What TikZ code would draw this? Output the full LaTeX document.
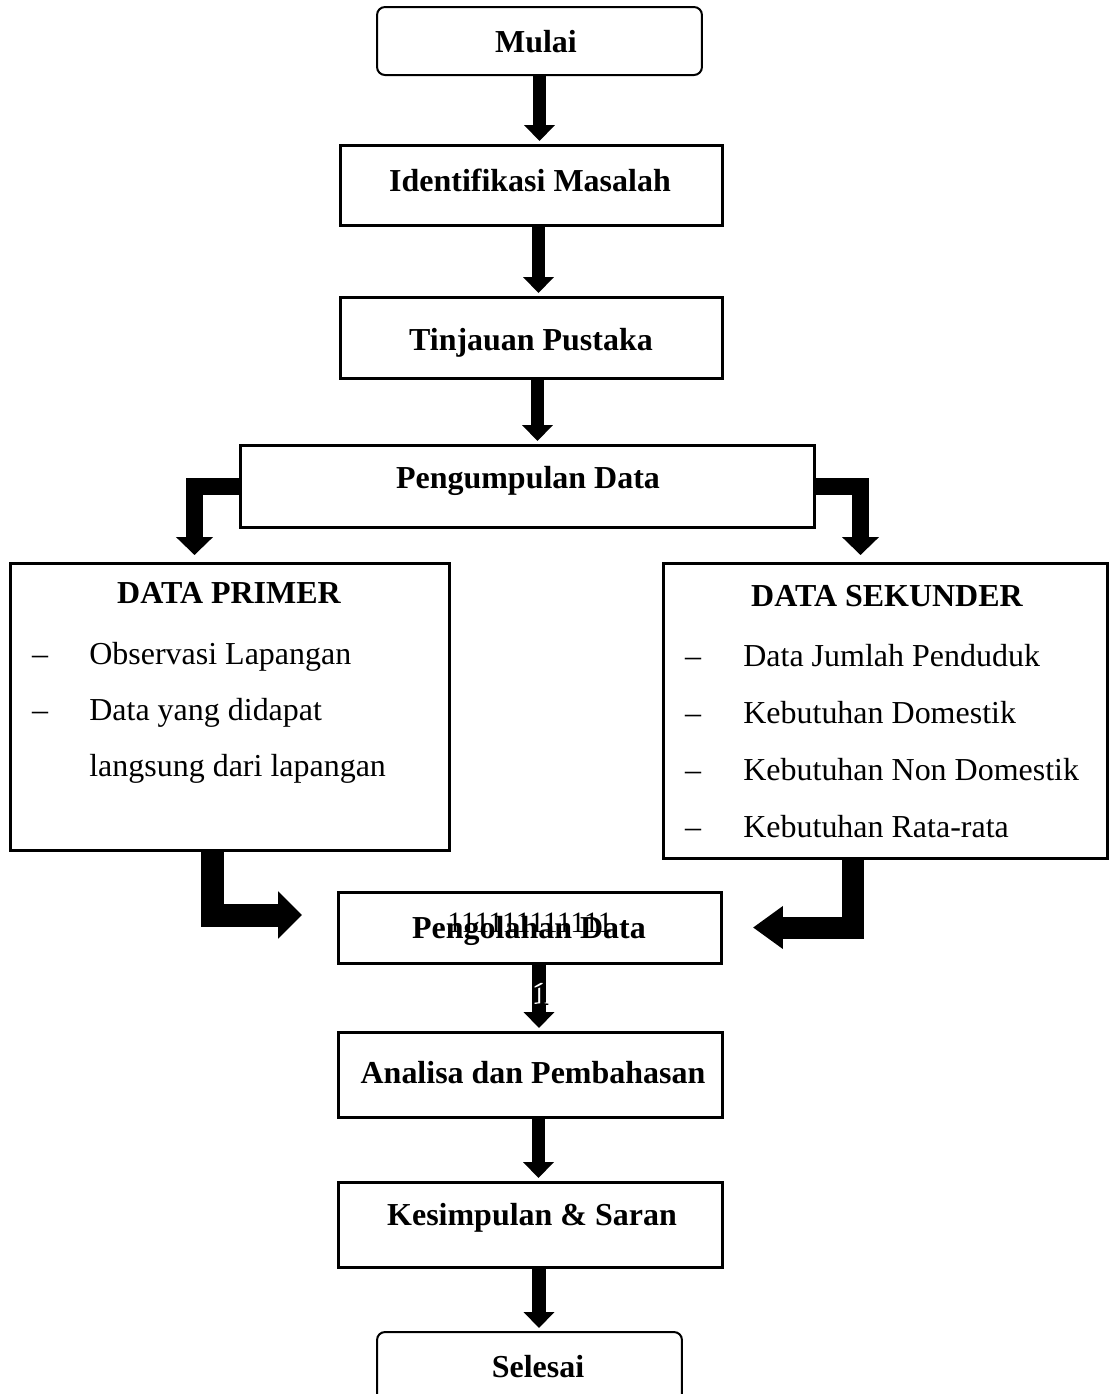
\documentclass[tikz,border=0pt]{standalone}
\usepackage{fontspec}
\setmainfont{Liberation Serif}
\usetikzlibrary{arrows.meta,calc}
\begin{document}
\begin{tikzpicture}[x=0.02cm,y=-0.02cm,
  box/.style={draw,line width=0.06cm,inner sep=0pt,outer sep=0pt},
  rbox/.style={draw,line width=0.04cm,rounded corners=0.16cm,inner sep=0pt,outer sep=0pt},
  lbl/.style={font=\fontsize{18.2pt}{22pt}\selectfont\bfseries,anchor=base,inner sep=0pt},
  txt/.style={font=\fontsize{18.2pt}{22pt}\selectfont,anchor=base west,inner sep=0pt},
  dsh/.style={font=\fontsize{18.2pt}{22pt}\selectfont,anchor=base,inner sep=0pt},
  varrow/.style={line width=0.27cm,-{Triangle[width=0.6cm,length=0.32cm]},shorten >=0.08cm},
  larrowA/.style={line width=0.34cm,line join=miter,-{Triangle[width=0.72cm,length=0.36cm]},shorten >=0.16cm},
  larrowB/.style={line width=0.46cm,line join=miter,-{Triangle[width=0.92cm,length=0.48cm]}},
  larrowC/.style={line width=0.44cm,line join=miter,-{Triangle[width=0.82cm,length=0.6cm]}}
]
\useasboundingbox (0,0) rectangle (1109,1394);

% boxes
\node[rbox,minimum width=6.5cm,minimum height=1.36cm] (mulai) at (539.5,41) {};
\node[box,minimum width=7.66cm,minimum height=1.6cm] (ident) at (531.5,185) {};
\node[box,minimum width=7.66cm,minimum height=1.62cm] (tinj) at (531.5,337.5) {};
\node[box,minimum width=11.5cm,minimum height=1.64cm] (pd) at (527.5,486) {};
\node[box,minimum width=8.8cm,minimum height=5.76cm] (dp) at (230,707) {};
\node[box,minimum width=8.9cm,minimum height=5.92cm] (ds) at (885.5,711) {};
\node[box,minimum width=7.68cm,minimum height=1.42cm] (pg) at (530,927.5) {};
\node[box,minimum width=7.7cm,minimum height=1.7cm] (an) at (530.5,1074.5) {};
\node[box,minimum width=7.7cm,minimum height=1.7cm] (ks) at (530.5,1224.5) {};
\node[rbox,minimum width=6.1cm,minimum height=1.4cm] (sl) at (529.5,1367) {};

% labels
\node[lbl] (tmulai) at (536,52) {Mulai};
\node[lbl] (tident) at (530,191) {Identifikasi Masalah};
\node[lbl] (ttinj) at (531,350) {Tinjauan Pustaka};
\node[lbl] (tpd) at (528,488) {Pengumpulan Data};
\node[font=\fontsize{16.8pt}{20pt}\selectfont,anchor=base,inner sep=0pt] (tones) at (530,932) {111111111111};
\node[lbl] (tpg) at (529,938) {Pengolahan Data};
\node[lbl] (tan) at (533,1083) {Analisa dan Pembahasan};
\node[lbl] (tks) at (532,1225) {Kesimpulan \& Saran};
\node[lbl] (tsl) at (538,1377) {Selesai};

% DATA PRIMER
\node[lbl] (tdp) at (229,603) {DATA PRIMER};
\node[dsh] (dpd1) at (40,664) {–};
\node[dsh] (dpd2) at (40,720) {–};
\node[txt] (dpt1) at (89,664) {Observasi Lapangan};
\node[txt] (dpt2) at (89,720) {Data yang didapat};
\node[txt] (dpt3) at (89,776) {langsung dari lapangan};

% DATA SEKUNDER
\node[lbl] (tds) at (887,606) {DATA SEKUNDER};
\node[dsh] (dsd1) at (693,666) {–};
\node[dsh] (dsd2) at (693,723) {–};
\node[dsh] (dsd3) at (693,780) {–};
\node[dsh] (dsd4) at (693,837) {–};
\node[txt] (dst1) at (743,666) {Data Jumlah Penduduk};
\node[txt] (dst2) at (743,723) {Kebutuhan Domestik};
\node[txt] (dst3) at (743,780) {Kebutuhan Non Domestik};
\node[txt] (dst4) at (743,837) {Kebutuhan Rata-rata};

% vertical arrows
\draw[varrow] (mulai.south) -- (mulai.south |- ident.north);
\draw[varrow] ([xshift=0.14cm]ident.south) -- ([xshift=0.14cm]ident.south |- tinj.north);
\draw[varrow] ([xshift=0.12cm]tinj.south) -- ([xshift=0.12cm]tinj.south |- pd.north);
\draw[varrow] ([xshift=0.18cm]pg.south) -- ([xshift=0.18cm]pg.south |- an.north);
\draw[varrow] ([xshift=0.16cm]an.south) -- ([xshift=0.16cm]an.south |- ks.north);
\draw[varrow] ([xshift=0.17cm]ks.south) -- ([xshift=0.17cm]ks.south |- sl.north);

% L arrows
\draw[larrowA] (pd.west) -| ([xshift=3.69cm]dp.north west);
\draw[larrowA] (pd.east) -| ([xshift=3.95cm]ds.north west);
\draw[larrowB] ([xshift=4.05cm]dp.south west) |- ([xshift=-0.72cm,yshift=0.25cm]pg.west);
\draw[larrowC] ([xshift=-5.1cm]ds.south east) |- ([xshift=0.62cm]pg.east);

% stray digit on shaft (black with a white edge)
\node[lbl,text=white] (tonew) at (540,1004) {1};
\node[lbl] (tone) at (542,1005) {1};
\end{tikzpicture}
\end{document}
